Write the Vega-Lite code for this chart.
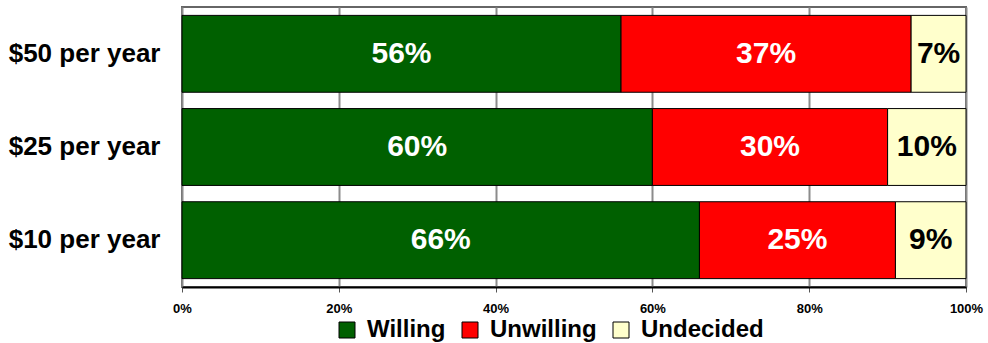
{
  "$schema": "https://vega.github.io/schema/vega-lite/v6.json",
  "autosize": "none",
  "width": 784,
  "height": 280,
  "padding": {"left": 182, "top": 7, "right": 22, "bottom": 56},
  "background": "white",
  "config": {
    "font": "Liberation Sans",
    "view": {"stroke": "#666666", "strokeWidth": 2}
  },
  "data": {
    "values": [
      {"plan": "$50 per year", "response": "Willing", "share": 0.56, "order": 1},
      {"plan": "$50 per year", "response": "Unwilling", "share": 0.37, "order": 2},
      {"plan": "$50 per year", "response": "Undecided", "share": 0.07, "order": 3},
      {"plan": "$25 per year", "response": "Willing", "share": 0.60, "order": 1},
      {"plan": "$25 per year", "response": "Unwilling", "share": 0.30, "order": 2},
      {"plan": "$25 per year", "response": "Undecided", "share": 0.10, "order": 3},
      {"plan": "$10 per year", "response": "Willing", "share": 0.66, "order": 1},
      {"plan": "$10 per year", "response": "Unwilling", "share": 0.25, "order": 2},
      {"plan": "$10 per year", "response": "Undecided", "share": 0.09, "order": 3}
    ]
  },
  "transform": [
    {"stack": "share", "groupby": ["plan"], "sort": [{"field": "order", "order": "ascending"}], "as": ["x0", "x1"]}
  ],
  "encoding": {
    "y": {
      "field": "plan",
      "type": "nominal",
      "sort": ["$50 per year", "$25 per year", "$10 per year"],
      "scale": {"paddingInner": 0.175, "paddingOuter": 0.09},
      "axis": {
        "title": null,
        "ticks": false,
        "domain": false,
        "labelPadding": 22,
        "labelFontSize": 26,
        "labelFontWeight": "bold",
        "labelColor": "black",
        "labelFont": "Liberation Sans",
        "labelLimit": 300
      }
    }
  },
  "layer": [
    {
      "mark": {"type": "bar", "stroke": "black", "strokeWidth": 1},
      "encoding": {
        "x": {
          "field": "x0",
          "type": "quantitative",
          "scale": {"domain": [0, 1], "nice": false},
          "axis": {
            "title": null,
            "values": [0, 0.2, 0.4, 0.6, 0.8, 1],
            "format": ".0%",
            "grid": true,
            "gridColor": "#8c8c8c",
            "gridWidth": 2,
            "domainColor": "black",
            "domainWidth": 2,
            "tickColor": "#555555",
            "tickSize": 5,
            "labelPadding": 10,
            "labelFlush": false,
            "labelFontSize": 13,
            "labelFontWeight": "bold",
            "labelColor": "black",
            "labelFont": "Liberation Sans"
          }
        },
        "x2": {"field": "x1"},
        "color": {
          "field": "response",
          "type": "nominal",
          "scale": {
            "domain": ["Willing", "Unwilling", "Undecided"],
            "range": ["#006000", "#ff0000", "#ffffcc"]
          },
          "legend": {
            "title": null,
            "orient": "none",
            "direction": "horizontal",
            "legendX": 153,
            "legendY": 311,
            "symbolType": "square",
            "symbolSize": 256,
            "symbolStrokeColor": "black",
            "symbolStrokeWidth": 1,
            "symbolOpacity": 1,
            "labelFontSize": 24,
            "labelFontWeight": "bold",
            "labelColor": "black",
            "labelFont": "Liberation Sans",
            "labelOffset": 8,
            "columnPadding": 12,
            "labelLimit": 300
          }
        }
      }
    },
    {
      "transform": [
        {"fold": ["x0", "x1"], "as": ["edge", "pos"]},
        {"aggregate": [{"op": "mean", "field": "pos", "as": "mid"}], "groupby": ["plan", "response", "share"]}
      ],
      "mark": {"type": "text", "fontSize": 30, "fontWeight": "bold", "font": "Liberation Sans", "baseline": "middle", "align": "center"},
      "encoding": {
        "x": {"field": "mid", "type": "quantitative"},
        "text": {"field": "share", "type": "quantitative", "format": ".0%"},
        "color": {
          "condition": {"test": "datum.response === 'Undecided'", "value": "black"},
          "value": "white"
        }
      }
    }
  ]
}
